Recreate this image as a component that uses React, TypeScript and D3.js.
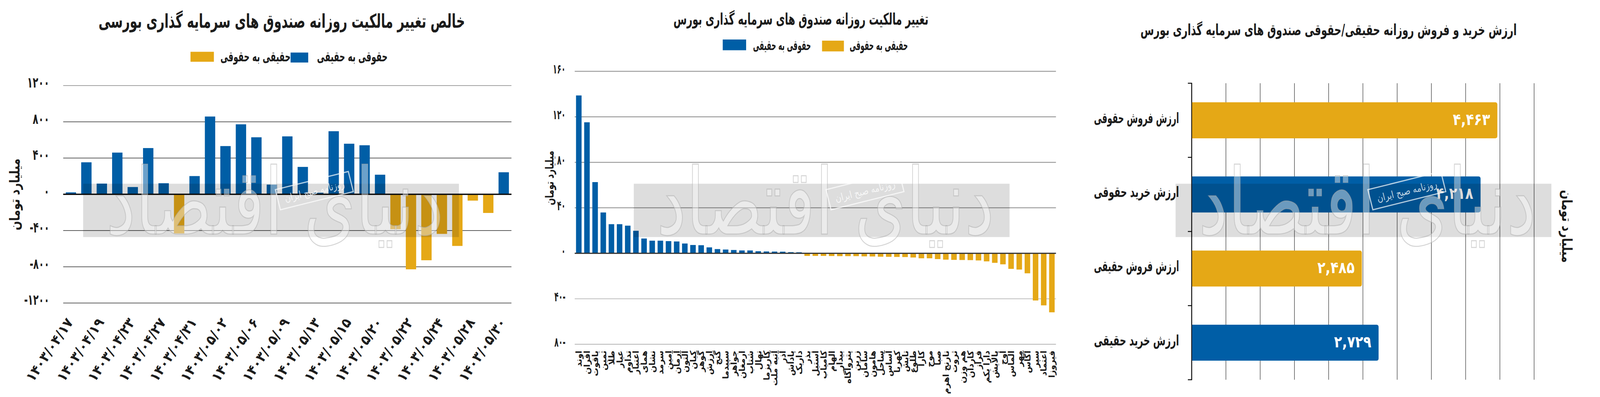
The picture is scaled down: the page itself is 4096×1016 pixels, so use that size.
import { useLayoutEffect, useRef, useState } from "react";
import * as d3 from "d3";

const W = 4171;
const H = 1035;
const BLUE = "#005ea6";
const GOLD = "#e5a816";
const INK = "#1c1c1c";
const FONT = "'DejaVu Sans', sans-serif";

// ---------- panel 1 : net daily ownership change (billion toman)
const netTitle = "خالص تغییر مالکیت روزانه صندوق های سرمایه گذاری بورسی";
const netDates = [
  "1403/04/17", "1403/04/19", "1403/04/23", "1403/04/27", "1403/04/31",
  "1403/05/02", "1403/05/06", "1403/05/09", "1403/05/13", "1403/05/15",
  "1403/05/20", "1403/05/22", "1403/05/24", "1403/05/28", "1403/05/30",
];
const netValues = [
  21, 353, 118, 460, 80, 510, 122, -432, 201, 858, 532, 772, 629, 107, 639,
  302, 17, 696, 558, 541, 216, -385, -828, -728, -437, -570, -70, -206, 243,
];
const netTicks = [1200, 800, 400, 0, -400, -800, -1200];

// ---------- panel 2 : daily ownership change per fund
const fundTitle = "تغییر مالکیت روزانه صندوق های سرمایه گذاری بورس";
const fundNames = [
  "اوند", "افران", "یاقوت", "ثمین", "طلا", "عیار", "تداوم", "اعتبار", "همای", "نشان",
  "سرمد", "امین", "آرمان", "آلتون", "کیان", "گوهر", "ارزش", "گنج", "سپیدما", "جواهر",
  "ارمغان", "شتاب", "نهال", "کاریزما", "آتیه ملت", "آذر", "پاداش", "داریک", "بذر", "استیل",
  "کامیاب", "الهام", "بیدار", "پتروآگاه", "زرین", "سامان", "هامون", "ساحل", "آساس", "کهربا",
  "تابش", "طلوع", "کارا", "موج", "صبا", "نارنج اهرم", "ثروت", "هم وزن", "کاردان", "فراز",
  "دارا یکم", "پالایش", "اوج", "الماس", "مهر", "آگاس", "سپر", "اعتماد", "فیروزا",
];
const fundValues = [
  138.8, 115.2, 62.6, 35.9, 25.6, 25.6, 24.3, 19.8, 13.0, 11.1, 11.1, 10.7, 10.4, 8.6,
  7.3, 7.1, 5.2, 3.7, 3.3, 2.9, 2.5, 2.5, 1.8, 1.6, 1.5, 1.4, 1.0, 0.9,
  -2.3, -2.3, -2.3, -2.4, -2.5, -2.5, -2.5, -2.7, -2.8, -3.0, -3.1, -3.2, -3.3, -3.7,
  -4.4, -4.4, -5.1, -5.6, -5.8, -5.9, -6.0, -6.3, -7.1, -8.4, -9.7, -13.7, -14.3,
  -17.6, -41.5, -45.8, -51.9,
];
const fundTicks = [160, 120, 80, 40, 0, -40, -80];

// ---------- panel 3 : daily buy / sell value
const flowTitle = "ارزش خرید و فروش روزانه حقیقی/حقوقی صندوق های سرمایه گذاری بورس";
const flowLabels = ["ارزش فروش حقوقی", "ارزش خرید حقوقی", "ارزش فروش حقیقی", "ارزش خرید حقیقی"];
const flowValues = [4463, 4218, 2485, 2729];
const flowKinds = ["sell", "buy", "sell", "buy"];
const flowTicks = d3.range(0, 5001, 500);

const legendIn = "حقوقی به حقیقی"; // legal -> individual (blue)
const legendOut = "حقیقی به حقوقی"; // individual -> legal (gold)
const unit = "میلیارد تومان";

const faDigits = "۰۱۲۳۴۵۶۷۸۹";
const fa = (s: string | number) => String(s).replace(/[0-9]/g, (d) => faDigits[+d]);
const thousands = d3.format(",");

type TProps = {
  x?: number;
  y?: number;
  size: number;
  len?: number;
  anchor?: string;
  fill?: string;
  transform?: string;
  dy?: string;
  weight?: string | number;
  stroke?: string;
  strokeWidth?: number;
  children: string;
};

// text helper. textLength is ignored for arabic shaping in chrome, so when a
// target length is given the text is measured and stretched with scale(k,1)
const T = ({ x = 0, y = 0, size, len, anchor = "middle", fill = INK, transform, dy, weight = "bold", stroke, strokeWidth, children }: TProps) => {
  const ref = useRef<SVGTextElement | null>(null);
  const [k, setK] = useState(1);
  useLayoutEffect(() => {
    if (!len || !ref.current) return;
    const fit = () => {
      if (!ref.current) return;
      const w = ref.current.getBBox().width;
      if (w > 0) setK(len / w);
    };
    fit();
    if (document.fonts) document.fonts.ready.then(fit);
  }, [len, size, children]);
  return (
    <g transform={`${transform ?? ""} translate(${x},${y}) scale(${k},1)`}>
      <text
        ref={ref}
        dy={dy}
        fontSize={size}
        fontFamily={FONT}
        fontWeight={weight}
        fill={fill}
        stroke={stroke}
        strokeWidth={strokeWidth}
        textAnchor={anchor}
      >
        {children}
      </text>
    </g>
  );
};

// grey band + calligraphy of the publisher, repeated on every panel
const Watermark = ({ x0 }: { x0: number }) => {
  const w = 980;
  const cx = x0 + w / 2;
  return (
    <g pointerEvents="none">
      <rect x={x0} y={479} width={w} height={139} fill="#000" opacity={0.135} />
      <T x={cx + 10} y={610} size={240} len={880} weight="normal" fill="rgba(255,255,255,0.42)" stroke="rgba(170,170,170,0.5)" strokeWidth={2.5}>
        دنیای اقتصاد
      </T>
      <g transform={`translate(${cx + 113},497) rotate(-14)`}>
        <rect x={-98} y={-27} width={196} height={54} fill="none" stroke="rgba(255,255,255,0.7)" strokeWidth={3} />
        <T y={10} size={26} len={160} weight="normal" fill="rgba(255,255,255,0.75)">
          روزنامه صبح ایران
        </T>
      </g>
    </g>
  );
};

const NetPanel = () => {
  const x = d3.scaleBand<number>().domain(d3.range(netValues.length)).range([164, 1333]).paddingInner(0.33).paddingOuter(0.165);
  const y = d3.scaleLinear().domain([-1200, 1200]).range([790, 223]);
  const y0 = y(0);
  return (
    <g>
      <T x={734} y={72} size={50} len={956}>{netTitle}</T>
      <rect x={496} y={135} width={61} height={26} fill={GOLD} />
      <T x={757} y={160} size={36} len={183} anchor="end">{legendOut}</T>
      <rect x={757} y={137} width={46} height={26} fill={BLUE} />
      <T x={1010} y={160} size={36} len={184} anchor="end">{legendIn}</T>

      {netTicks.map((t) => (
        <g key={t}>
          <line x1={164} x2={1333} y1={y(t)} y2={y(t)} stroke={t === 1200 ? "#a3a3a3" : "#5e5e5e"} strokeWidth={2} />
          <T x={128} y={y(t) + 5} size={38} anchor="end" len={String(Math.abs(t)).length * 14.5 + (t < 0 ? 8 : 0)}>
            {t < 0 ? "-" + fa(-t) : fa(t)}
          </T>
        </g>
      ))}

      {netValues.map((v, i) => (
        <rect key={i} x={x(i)} width={x.bandwidth()} y={Math.min(y(v), y0)} height={Math.abs(y(v) - y0)} fill={v >= 0 ? BLUE : GOLD} />
      ))}
      <line x1={164} x2={1333} y1={y0} y2={y0} stroke="#111" strokeWidth={3.5} />

      {netDates.map((d, k) => {
        const cx = (x(k * 2) as number) + x.bandwidth() / 2 - 3;
        return (
          <T key={d} transform={`translate(${cx},833) rotate(-56)`} dy="0.35em" size={36} len={190} anchor="end">
            {fa(d)}
          </T>
        );
      })}

      <T transform="translate(38,507) rotate(-90)" dy="0.35em" size={36} len={187}>{unit}</T>
    </g>
  );
};

const FundPanel = () => {
  const x = d3.scaleBand<number>().domain(d3.range(fundValues.length)).range([1498, 2753]).paddingInner(0.32).paddingOuter(0.16);
  const y = d3.scaleLinear().domain([-80, 160]).range([897.5, 186]);
  const y0 = y(0);
  return (
    <g>
      <T x={2088} y={64} size={42} len={665}>{fundTitle}</T>
      <rect x={1884} y={103} width={61} height={28} fill={BLUE} />
      <T x={2114} y={130} size={35} len={151} anchor="end">{legendIn}</T>
      <rect x={2143} y={106} width={57} height={28} fill={GOLD} />
      <T x={2367} y={130} size={35} len={152} anchor="end">{legendOut}</T>

      {fundTicks.map((t) => (
        <g key={t}>
          <line x1={1498} x2={2753} y1={y(t)} y2={y(t)} stroke={t < 0 ? "#b5b5b5" : "#8a8a8a"} strokeWidth={2} />
          <T x={1474} y={y(t) + 6} size={34} anchor="end" len={String(Math.abs(t)).length * 11 + (t < 0 ? 7 : 0)}>
            {t < 0 ? fa(-t) + "-" : fa(t)}
          </T>
        </g>
      ))}

      {fundValues.map((v, i) => (
        <rect key={i} x={x(i)} width={x.bandwidth()} y={Math.min(y(v), y0)} height={Math.abs(y(v) - y0)} fill={v >= 0 ? BLUE : GOLD} />
      ))}
      <line x1={1498} x2={2753} y1={y0} y2={y0} stroke="#333" strokeWidth={3} />

      {fundNames.map((n, i) => (
        <T key={i} transform={`translate(${(x(i) as number) + x.bandwidth() / 2},914) rotate(-90)`} dy="0.35em" size={22} anchor="end">
          {n}
        </T>
      ))}

      <T transform="translate(1432,464) rotate(-90)" dy="0.35em" size={30} len={142}>{unit}</T>
    </g>
  );
};

const FlowPanel = () => {
  const x = d3.scaleLinear().domain([0, 5000]).range([3107, 4000]);
  const y = d3.scaleBand<number>().domain(d3.range(flowValues.length)).range([217, 990]).paddingInner(0.514).paddingOuter(0.257);
  const step = y.step();
  const r = 6;
  return (
    <g>
      <T x={3464} y={92} size={40} len={981}>{flowTitle}</T>

      {flowTicks.map((t) => (
        <line key={t} x1={x(t)} x2={x(t)} y1={217} y2={990} stroke={t === 0 ? "#111" : "#2a2a2a"} strokeWidth={t === 0 ? 2.5 : 1.2} />
      ))}
      {d3.range(flowValues.length + 1).map((k) => {
        const yy = 217 + k * step;
        return <line key={k} x1={3097} x2={3108} y1={yy} y2={yy} stroke="#111" strokeWidth={2.5} />;
      })}

      {flowValues.map((v, i) => {
        const y1 = y(i) as number;
        const y2 = y1 + y.bandwidth();
        const x0 = x(0) + 1;
        const x1 = x(v);
        const d = `M${x0},${y1}H${x1 - r}Q${x1},${y1} ${x1},${y1 + r}V${y2 - r}Q${x1},${y2} ${x1 - r},${y2}H${x0}Z`;
        const label = fa(thousands(v));
        return (
          <g key={i}>
            <path d={d} fill={flowKinds[i] === "buy" ? BLUE : GOLD} />
            <T x={x1 - 19} y={y1 + y.bandwidth() / 2 + 12} size={42} len={label.length * 19.4} anchor="end" fill="#fff">
              {label}
            </T>
            <T x={3074} y={y1 + y.bandwidth() / 2 + 7} size={38} len={flowLabels[i].length * 14.8} anchor="end">
              {flowLabels[i]}
            </T>
          </g>
        );
      })}

      <T transform="translate(4086,590) rotate(90)" dy="0.35em" size={36} len={190}>{unit}</T>
    </g>
  );
};

export default function App() {
  return (
    <svg
      width={4096}
      height={1016}
      viewBox={`0 0 ${W} ${H}`}
      style={{ position: "absolute", left: 0, top: 0, background: "#fff" }}
    >
      <rect width={W} height={H} fill="#fff" />
      <NetPanel />
      <FundPanel />
      <FlowPanel />
      <Watermark x0={216} />
      <Watermark x0={1652} />
      <Watermark x0={3065} />
    </svg>
  );
}
